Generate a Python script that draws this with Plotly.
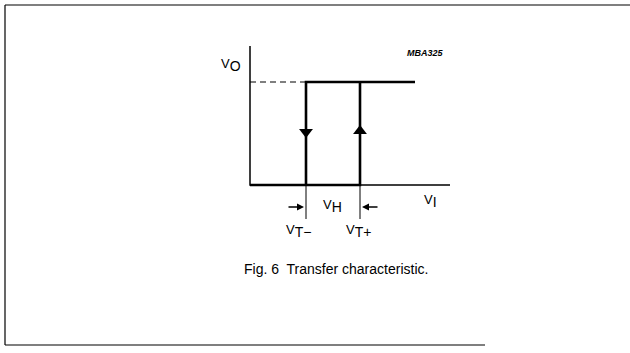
import plotly.graph_objects as go

# Hysteresis levels (plot units, origin at axis corner)
VT_MINUS = 56
VT_PLUS = 110
VOH = 103
VI_END = 165
AXIS_X_END = 200
AXIS_Y_END = 139

# Transfer curve segments
low_x = [0, VT_PLUS, VT_PLUS]
low_y = [0, 0, VOH]
high_x = [VT_MINUS, VT_MINUS, VI_END]
high_y = [0, VOH, VOH]
dash_x = [0, VT_MINUS]
dash_y = [VOH, VOH]

arrow_x = [VT_MINUS, VT_PLUS]
arrow_y = [53, 54]
arrow_sym = ["triangle-down", "triangle-up"]

# axis labels: centre position, main letter, subscript
label_x = [-19, 180, 82, 48, 108]
label_y = [120, -16, -21, -46, -46]
label_main = ["V", "V", "V", "V", "V"]
label_sub = ["O", "I", "H", "T−", "T+"]

FONT = "Liberation Sans, Arial, sans-serif"

fig = go.Figure()

# axes
fig.add_trace(go.Scatter(x=[0, 0, AXIS_X_END], y=[AXIS_Y_END, 0, 0], mode="lines",
                         line=dict(color="black", width=1.5), hoverinfo="skip"))
fig.add_trace(go.Scatter(x=dash_x, y=dash_y, mode="lines",
                         line=dict(color="black", width=1.2, dash="6px,4px"), hoverinfo="skip"))
fig.add_trace(go.Scatter(x=low_x, y=low_y, mode="lines",
                         line=dict(color="black", width=2.6), hoverinfo="skip"))
fig.add_trace(go.Scatter(x=high_x, y=high_y, mode="lines",
                         line=dict(color="black", width=2.6), hoverinfo="skip"))
fig.add_trace(go.Scatter(x=arrow_x, y=arrow_y, mode="markers",
                         marker=dict(symbol=arrow_sym, size=12, color="black"), hoverinfo="skip"))

# threshold tick lines below axis
for xv in [VT_MINUS, VT_PLUS]:
    fig.add_trace(go.Scatter(x=[xv, xv], y=[0, -34], mode="lines",
                             line=dict(color="black", width=1), hoverinfo="skip"))

# hysteresis width arrows
fig.add_annotation(x=VT_MINUS - 2, y=-22, ax=VT_MINUS - 19, ay=-22, axref="x", ayref="y",
                   showarrow=True, arrowhead=2, arrowsize=1, arrowwidth=1.4, arrowcolor="black", text="")
fig.add_annotation(x=VT_PLUS + 2, y=-22, ax=VT_PLUS + 19, ay=-22, axref="x", ayref="y",
                   showarrow=True, arrowhead=2, arrowsize=1, arrowwidth=1.4, arrowcolor="black", text="")

for lx, ly, m, s in zip(label_x, label_y, label_main, label_sub):
    txt = f"V<sub><span style='font-size:14px'>{s}</span></sub>" if m == "V" else m
    fig.add_annotation(x=lx, y=ly, text=txt, showarrow=False, xanchor="center", yanchor="middle",
                       font=dict(family=FONT, size=13, color="black"))

fig.add_annotation(x=175, y=132, text="<b><i>MBA325</i></b>", showarrow=False,
                   font=dict(family=FONT, size=9, color="black"))
fig.add_annotation(x=86, y=-84, text="Fig. 6  Transfer characteristic.", showarrow=False,
                   font=dict(family=FONT, size=14, color="black"))

# outer frame (open on the right)
frame = dict(type="line", xref="paper", yref="paper", line=dict(color="black", width=1.2))
fig.add_shape(x0=5 / 630, x1=1, y0=1 - 5 / 353, y1=1 - 5 / 353, **frame)
fig.add_shape(x0=5 / 630, x1=5 / 630, y0=1 - 5 / 353, y1=1 - 345 / 353, **frame)
fig.add_shape(x0=5 / 630, x1=485 / 630, y0=1 - 345 / 353, y1=1 - 345 / 353, **frame)

fig.update_layout(
    width=630, height=353,
    margin=dict(l=0, r=0, t=0, b=0),
    paper_bgcolor="white", plot_bgcolor="white",
    showlegend=False,
    xaxis=dict(range=[-250, 380], visible=False, fixedrange=True),
    yaxis=dict(range=[-168, 185], visible=False, fixedrange=True),
)

fig.write_html("out.html", config={"displayModeBar": False},
               post_script="document.body.style.margin='0';")
